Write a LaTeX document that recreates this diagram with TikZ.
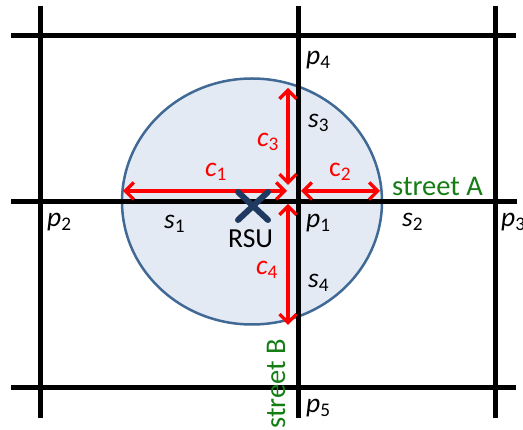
\documentclass[tikz,border=0pt]{standalone}
\usepackage{fontspec}
\setmainfont{Carlito}
\usetikzlibrary{arrows.meta}
\definecolor{ringblue}{RGB}{65,105,150}
\definecolor{ringfill}{RGB}{227,234,243}
\definecolor{rsublue}{RGB}{31,58,96}
\definecolor{streetgreen}{RGB}{20,125,20}
\newcommand\lbl[2]{\textit{#1}\textsubscript{#2}}
\begin{document}
\begin{tikzpicture}[x=1pt,y=-1pt,
  road/.style={line width=5pt},
  reach/.style={draw=red,line width=3.2pt,
    {Straight Barb[length=8.5pt,width=17pt]}-{Straight Barb[length=8.5pt,width=17pt]}},
  lab/.style={anchor=base west,inner sep=0pt,font=\fontsize{27.5}{30}\selectfont},
  redlab/.style={lab,text=red},
  streetlab/.style={lab,text=streetgreen,font=\fontsize{28.5}{30}\selectfont}]
\useasboundingbox (0,0) rectangle (523,430);
% coverage area
\draw[ringblue,fill=ringfill,line width=2.5pt] (252,201.5) ellipse [x radius=130pt,y radius=123pt];
% roads
\coordinate (h1w) at (11,36);  \coordinate (h1e) at (516,36);
\coordinate (h2w) at (11,202); \coordinate (h2e) at (517,202);
\coordinate (h3w) at (11,388); \coordinate (h3e) at (516,388);
\coordinate (v1n) at (40,6);   \coordinate (v1s) at (40,418);
\coordinate (v2n) at (298,6);  \coordinate (v2s) at (298,418);
\coordinate (v3n) at (495,6);  \coordinate (v3s) at (495,418);
\draw[road] (h1w) -- (h1e);
\draw[road] (h2w) -- (h2e);
\draw[road] (h3w) -- (h3e);
\draw[road] (v1n) -- (v1s);
\draw[road] (v2n) -- (v2s);
\draw[road] (v3n) -- (v3s);
% reach arrows
\coordinate (c1a) at (123,191); \coordinate (c1b) at (287,191);
\coordinate (c2a) at (301,191); \coordinate (c2b) at (380,191);
\coordinate (c3a) at (288,88);  \coordinate (c3b) at (288,185);
\coordinate (c4a) at (288,204); \coordinate (c4b) at (288,325);
\draw[reach] (c1a) -- (c1b);
\draw[reach] (c2a) -- (c2b);
\draw[reach] (c3a) -- (c3b);
\draw[reach] (c4a) -- (c4b);
% RSU
\coordinate (x1) at (238,192); \coordinate (x2) at (268,220);
\coordinate (x3) at (238,220); \coordinate (x4) at (268,192);
\draw[rsublue,line width=6pt,line cap=round] (x1) -- (x2) (x3) -- (x4);
\node[lab] (rsu) at (228,248) {RSU};
% labels
\node[lab] (p4) at (306,65) {\lbl{p}{4}};
\node[lab] (s3) at (308,128) {\lbl{s}{3}};
\node[lab] (s1) at (164,229) {\lbl{s}{1}};
\node[lab] (p1) at (306,228) {\lbl{p}{1}};
\node[lab] (s2) at (402,227) {\lbl{s}{2}};
\node[lab] (p3) at (501,227) {\lbl{p}{3}};
\node[lab] (p2) at (47,227) {\lbl{p}{2}};
\node[lab] (s4) at (308,288) {\lbl{s}{4}};
\node[lab] (p5) at (306,413) {\lbl{p}{5}};
\node[redlab] (c1) at (205,177) {\lbl{c}{1}};
\node[redlab] (c2) at (329,177) {c\textsubscript{2}};
\node[redlab] (c3) at (257,147) {\lbl{c}{3}};
\node[redlab] (c4) at (256,275) {\lbl{c}{4}};
\node[streetlab] (stA) at (392,196) {street A};
\node[streetlab,rotate=90] (stB) at (285,429) {street B};
\end{tikzpicture}
\end{document}
